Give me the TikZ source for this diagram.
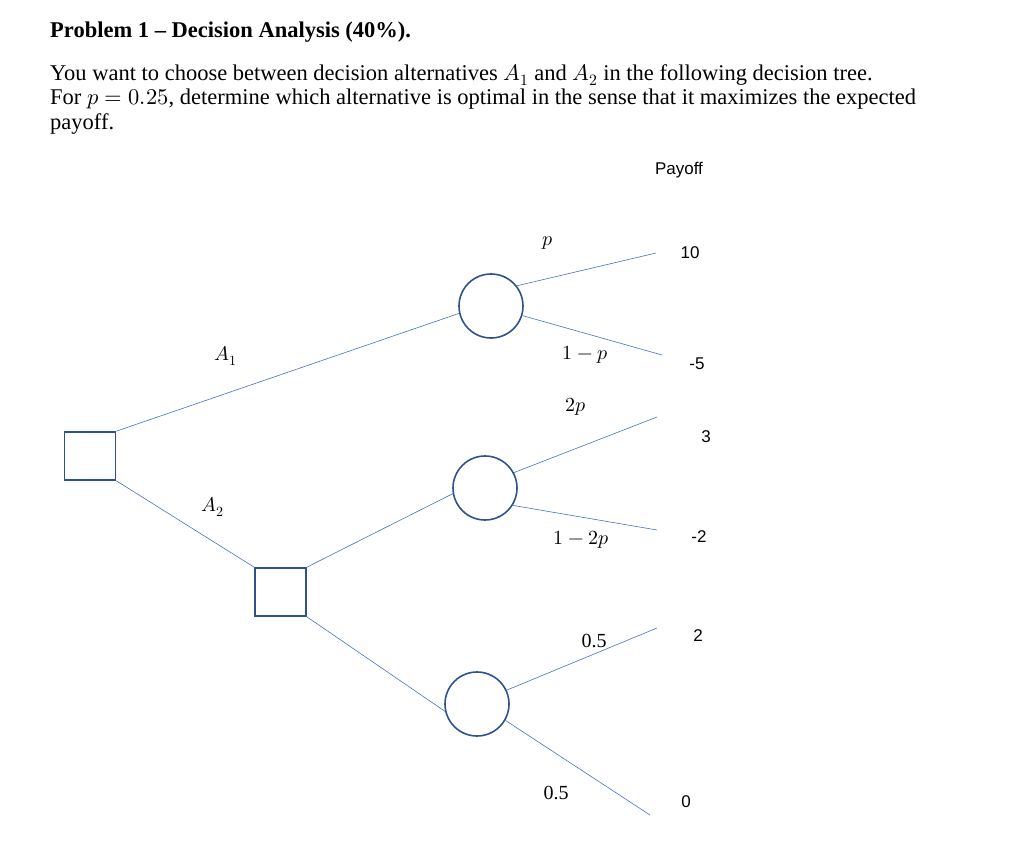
\documentclass[tikz,border=0pt]{standalone}
\usepackage{fontspec}
\usepackage{unicode-math}
\setmainfont{Liberation Serif}
\setmathfont{Latin Modern Math}
\newfontfamily\sansf{Liberation Sans}
\definecolor{shp}{HTML}{2F528F}
\definecolor{ln}{HTML}{4472C4}
\begin{document}
\begin{tikzpicture}[x=1pt,y=-1pt,
  dec/.style={draw=shp,line width=1.6pt,minimum width=51pt,minimum height=48pt,inner sep=0pt},
  chance/.style={circle,draw=shp,line width=1.6pt,minimum size=64pt,inner sep=0pt},
  br/.style={draw=ln,line width=0.6pt},
  lab/.style={font=\fontsize{20}{22}\selectfont},
  pay/.style={font=\sansf\fontsize{17}{19}\selectfont}]
\useasboundingbox (0,0) rectangle (1024,858);
\node[anchor=base west,inner sep=0pt,font=\bfseries\fontsize{22.5}{24}\selectfont] (title) at (50,38) {Problem 1 – Decision Analysis (40\%).};
\node[anchor=north west,font=\fontsize{22.5}{24.5}\selectfont,align=left,inner sep=0pt] (para) at (50,64)
{You want to choose between decision alternatives $A_1$ and $A_2$ in the following decision tree.\\
For $p=0.25$, determine which alternative is optimal in the sense that it maximizes the expected\\
payoff.};
\node[pay] (payoff) at (679,170) {Payoff};
\node[dec] (d1) at (90,456) {};
\node[dec] (d2) at (280.5,592) {};
\node[chance] (c1) at (491,306) {};
\node[chance] (c2) at (485,488) {};
\node[chance] (c3) at (477,704) {};
\coordinate (e1) at (656,253); \coordinate (e2) at (662,355);
\coordinate (e3) at (657,417); \coordinate (e4) at (657,530);
\coordinate (e5) at (657,628); \coordinate (e6) at (650,815);
\draw[br] (d1.north east) -- (c1.193);
\draw[br] (d1.south east) -- (d2.north west);
\draw[br] (d2.north east) -- (c2.190);
\draw[br] (d2.south east) -- (c3.193);
\draw[br] (c1.38) -- (e1); \draw[br] (c1.-17) -- (e2);
\draw[br] (c2.28) -- (e3); \draw[br] (c2.-32) -- (e4);
\draw[br] (c3.25) -- (e5); \draw[br] (c3.-30) -- (e6);
\node[lab] (lp) at (548,243) {$p$};
\node[lab] (l1p) at (585,355) {$1-p$};
\node[lab] (l2p) at (576,407) {$2p$};
\node[lab] (l12p) at (581,540) {$1-2p$};
\node[lab] (l05a) at (594,641) {0.5};
\node[lab] (l05b) at (556,793) {0.5};
\node[lab] (la1) at (226,356) {$A_1$};
\node[lab] (la2) at (213,507) {$A_2$};
\node[pay] (p1) at (690,253) {10};
\node[pay] (p2) at (697,364) {-5};
\node[pay] (p3) at (706,437) {3};
\node[pay] (p4) at (699,537) {-2};
\node[pay] (p5) at (698,636) {2};
\node[pay] (p6) at (686,802) {0};
\end{tikzpicture}
\end{document}
